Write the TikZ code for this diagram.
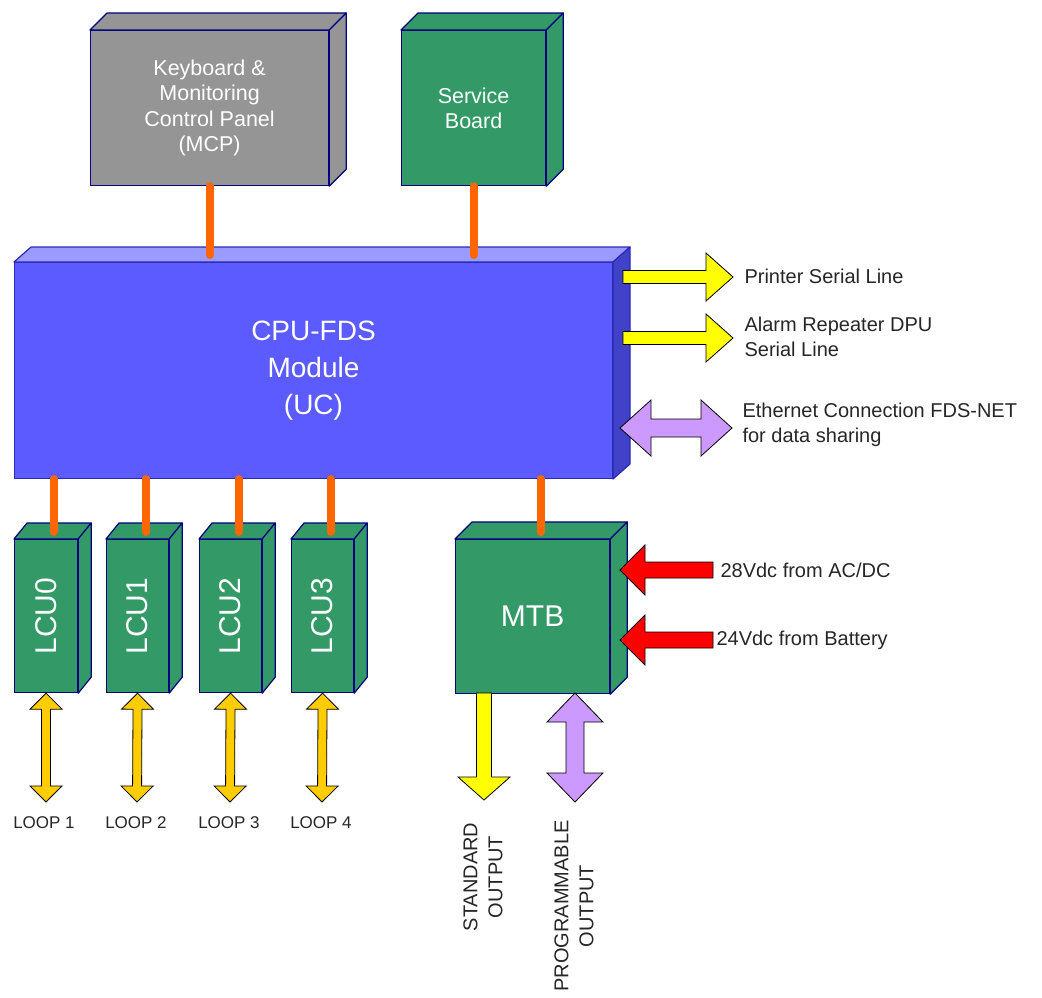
\documentclass[tikz,border=0pt]{standalone}
\usepackage{fontspec}
\setmainfont{Liberation Sans}
\usetikzlibrary{calc}

\definecolor{boardgreen}{HTML}{339966}
\definecolor{panelgray}{HTML}{959595}
\definecolor{navyedge}{HTML}{000080}
\definecolor{cpufront}{HTML}{5B5BFF}
\definecolor{cputop}{HTML}{9B9BFF}
\definecolor{cpuside}{HTML}{4242C8}
\definecolor{cpuedge}{HTML}{2A2AB8}
\definecolor{buslink}{HTML}{FF6600}
\definecolor{lineyellow}{HTML}{FFFF00}
\definecolor{loopgold}{HTML}{FFCC00}
\definecolor{netlilac}{HTML}{CC99FF}
\definecolor{powerred}{HTML}{FF0000}

% top and side faces of a box drawn behind its front node
\newcommand{\boxsides}[6]{% #1 node, #2 dx, #3 dy, #4 top fill, #5 side fill, #6 edge
  \filldraw[draw=#6, line width=1.2pt, line join=round, fill=#4] (#1.north west) -- ++(#2,-#3)
    -- ([shift={(#2,-#3)}]#1.north east) -- (#1.north east) -- cycle;
  \filldraw[draw=#6, line width=1.2pt, line join=round, fill=#5] (#1.north east) -- ++(#2,-#3)
    -- ([shift={(#2,-#3)}]#1.south east) -- (#1.south east) -- cycle;
}
% block arrows: #1 style, #2 tail, #3 tip, #4 shaft half width, #5 head half width, #6 head length
\newcommand{\onearrow}[6]{%
  \coordinate (hb) at ($(#3)!#6!(#2)$);
  \filldraw[#1] ($(#2)!#4!90:(#3)$) -- ($(hb)!#4!-90:(#2)$) -- ($(hb)!#5!-90:(#2)$) -- (#3)
    -- ($(hb)!#5!90:(#2)$) -- ($(hb)!#4!90:(#2)$) -- ($(#2)!#4!-90:(#3)$) -- cycle;
}
\newcommand{\twoarrow}[6]{%
  \coordinate (hba) at ($(#2)!#6!(#3)$);
  \coordinate (hbb) at ($(#3)!#6!(#2)$);
  \filldraw[#1] (#2) -- ($(hba)!#5!90:(#3)$) -- ($(hba)!#4!90:(#3)$) -- ($(hbb)!#4!-90:(#2)$)
    -- ($(hbb)!#5!-90:(#2)$) -- (#3) -- ($(hbb)!#5!90:(#2)$) -- ($(hbb)!#4!90:(#2)$)
    -- ($(hba)!#4!-90:(#3)$) -- ($(hba)!#5!-90:(#3)$) -- cycle;
}

\tikzset{
  board/.style={draw=navyedge, line width=1.2pt, anchor=north west, inner sep=0pt,
    text=white, align=center, fill=boardgreen},
  link/.style={draw=buslink, line width=8pt, line cap=round},
  flow/.style={draw=black, line width=0.8pt, line join=miter},
  sidetext/.style={anchor=west, align=left, text=black!85, font=\fontsize{20}{24.5}\selectfont},
  looptext/.style={text=black!85, font=\fontsize{17}{18}\selectfont},
  outtext/.style={text=black!85, rotate=90, align=center, font=\fontsize{20}{25}\selectfont},
  lcutext/.style={rotate=90, text=white, font=\fontsize{30}{30}\selectfont},
}

\begin{document}
\begin{tikzpicture}[x=1pt, y=-1pt]
    \useasboundingbox (0,0) rectangle (1042,997);

    % Upper panels
    \node[board, fill=panelgray, minimum width=238pt, minimum height=155pt,
      font=\fontsize{21.5}{25.5}\selectfont] (mcp) at (90,30)
      {Keyboard \&\\Monitoring\\Control Panel\\(MCP)};
    \boxsides{mcp}{17}{17}{panelgray}{panelgray}{navyedge}
    \node[board, minimum width=144pt, minimum height=155pt,
      font=\fontsize{21.5}{25.5}\selectfont] (svc) at (401,30) {Service\\Board};
    \boxsides{svc}{17}{17}{boardgreen}{boardgreen}{navyedge}

    % Main CPU module
    \node[board, draw=cpuedge, line width=1pt, fill=cpufront, minimum width=598pt, minimum height=216pt,
      font=\fontsize{28}{37}\selectfont] (cpu) at (14,262) {CPU-FDS\\Module\\(UC)};
    \boxsides{cpu}{17}{15}{cputop}{cpuside}{cpuedge}

    % Loop control units
    \node[board, minimum width=63pt, minimum height=153pt, label={[lcutext]center:LCU0}] (lcu0) at (14,539) {};
    \boxsides{lcu0}{13}{16}{boardgreen}{boardgreen}{navyedge}
    \node[board, minimum width=62pt, minimum height=153pt, label={[lcutext]center:LCU1}] (lcu1) at (106,539) {};
    \boxsides{lcu1}{13}{16}{boardgreen}{boardgreen}{navyedge}
    \node[board, minimum width=62pt, minimum height=153pt, label={[lcutext]center:LCU2}] (lcu2) at (199,539) {};
    \boxsides{lcu2}{13}{16}{boardgreen}{boardgreen}{navyedge}
    \node[board, minimum width=62pt, minimum height=153pt, label={[lcutext]center:LCU3}] (lcu3) at (291,539) {};
    \boxsides{lcu3}{13}{16}{boardgreen}{boardgreen}{navyedge}

    % Power board
    \node[board, minimum width=154pt, minimum height=154pt,
      font=\fontsize{30}{30}\selectfont] (mtb) at (455,539) {MTB};
    \boxsides{mtb}{17}{17}{boardgreen}{boardgreen}{navyedge}

    % Bus links
    \draw[link] (mcp.south) -- ([yshift=7pt]mcp.south |- cpu.north);
    \draw[link] (svc.south) -- ([yshift=7pt]svc.south |- cpu.north);
    \draw[link] ([xshift=8pt]lcu0.north |- cpu.south) -- ([xshift=8pt,yshift=7pt]lcu0.north);
    \draw[link] ([xshift=8pt]lcu1.north |- cpu.south) -- ([xshift=8pt,yshift=7pt]lcu1.north);
    \draw[link] ([xshift=8pt]lcu2.north |- cpu.south) -- ([xshift=8pt,yshift=7pt]lcu2.north);
    \draw[link] ([xshift=8pt]lcu3.north |- cpu.south) -- ([xshift=8pt,yshift=7pt]lcu3.north);
    \draw[link] ([xshift=8pt]mtb.north |- cpu.south) -- ([xshift=8pt,yshift=7pt]mtb.north);

    % Serial and network lines
    \coordinate (prn-a) at (623,277);  \coordinate (prn-b) at (733,277);
    \coordinate (dpu-a) at (623,338);  \coordinate (dpu-b) at (733,338);
    \coordinate (eth-a) at (620,428);  \coordinate (eth-b) at (732,428);
    \onearrow{flow, fill=lineyellow}{prn-a}{prn-b}{6.5pt}{24pt}{27pt}
    \onearrow{flow, fill=lineyellow}{dpu-a}{dpu-b}{6.5pt}{24pt}{27pt}
    \twoarrow{flow, fill=netlilac}{eth-a}{eth-b}{9pt}{28pt}{31pt}
    \node[sidetext] (prn) at (741,276) {Printer Serial Line};
    \node[sidetext] (dpu) at (741,337) {Alarm Repeater DPU\\Serial Line};
    \node[sidetext] (eth) at (739,425) {Ethernet Connection FDS-NET\\for data sharing};

    % Power inputs
    \coordinate (acdc-a) at (713,570);  \coordinate (acdc-b) at (620,570);
    \coordinate (batt-a) at (713,640);  \coordinate (batt-b) at (620,640);
    \onearrow{flow, fill=powerred}{acdc-a}{acdc-b}{8pt}{25pt}{25pt}
    \onearrow{flow, fill=powerred}{batt-a}{batt-b}{8pt}{25pt}{25pt}
    \node[sidetext] (acdc) at (717,570) {28Vdc from AC/DC};
    \node[sidetext] (batt) at (713,640) {24Vdc from Battery};

    % Outputs of the MTB
    \coordinate (std-a) at (484,693);  \coordinate (std-b) at (484,800);
    \coordinate (prog-a) at (575,693); \coordinate (prog-b) at (575,802);
    \onearrow{flow, fill=lineyellow}{std-a}{std-b}{7.5pt}{26pt}{23pt}
    \twoarrow{flow, fill=netlilac}{prog-a}{prog-b}{9pt}{28pt}{29pt}
    \node[outtext] (std) at (483,877) {STANDARD\\OUTPUT};
    \node[outtext] (prog) at (574,906) {PROGRAMMABLE\\OUTPUT};

    % Field loops
    \coordinate (loop1-b) at (46,802);
    \coordinate (loop2-b) at (137,802);
    \coordinate (loop3-b) at (230,802);
    \coordinate (loop4-b) at (322,802);
    \twoarrow{flow, fill=loopgold}{lcu0.south}{loop1-b}{4.5pt}{16pt}{16pt}
    \twoarrow{flow, fill=loopgold}{lcu1.south}{loop2-b}{4.5pt}{16pt}{16pt}
    \twoarrow{flow, fill=loopgold}{lcu2.south}{loop3-b}{4.5pt}{16pt}{16pt}
    \twoarrow{flow, fill=loopgold}{lcu3.south}{loop4-b}{4.5pt}{16pt}{16pt}
    \node[looptext] (loop1) at (44,823) {LOOP 1};
    \node[looptext] (loop2) at (136,823) {LOOP 2};
    \node[looptext] (loop3) at (229,823) {LOOP 3};
    \node[looptext] (loop4) at (321,823) {LOOP 4};

\end{tikzpicture}
\end{document}
